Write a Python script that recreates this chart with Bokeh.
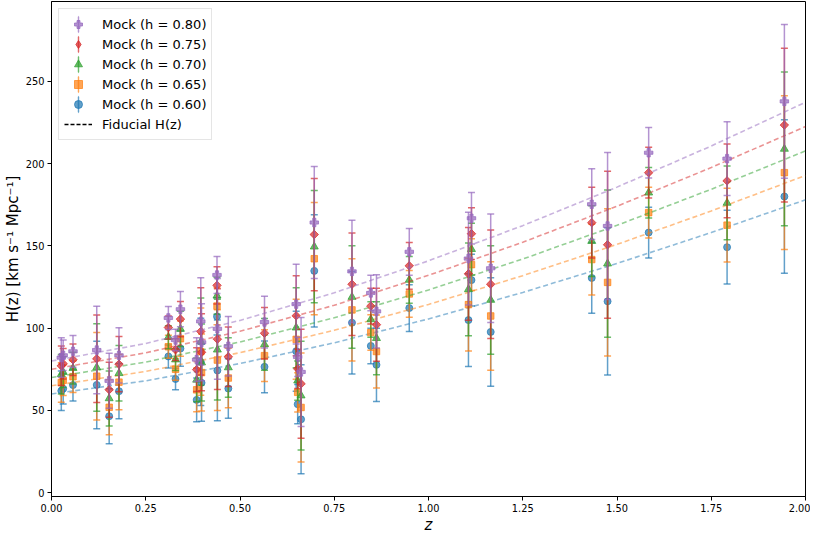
import math
from bokeh.plotting import figure
from bokeh.models import (Range1d, FixedTicker, NumeralTickFormatter, ColumnDataSource,
                          Legend, LegendItem)
from bokeh.embed import file_html
from bokeh.resources import INLINE

# ---------------- data ----------------
z = [0.026, 0.031, 0.057, 0.120, 0.153, 0.179, 0.310, 0.329, 0.342, 0.385, 0.396,
     0.398, 0.439, 0.440, 0.469, 0.565, 0.649, 0.653, 0.662, 0.697, 0.797, 0.847,
     0.862, 0.949, 1.106, 1.114, 1.165, 1.433, 1.475, 1.584, 1.792, 1.944]

h060 = [61.9, 63.2, 65.4, 65.5, 46.5, 61.7, 82.8, 69.1, 87.6, 56.4, 79.5,
        66.8, 107.1, 74.3, 63.3, 76.5, 86.0, 53.8, 44.6, 134.8, 103.3, 89.2,
        77.7, 112.2, 104.9, 129.2, 97.7, 130.5, 116.3, 158.1, 149.2, 180.0]
h065 = [67.0, 68.3, 70.5, 70.8, 51.9, 67.2, 88.7, 75.0, 93.6, 62.5, 85.7,
        73.0, 113.4, 80.6, 69.7, 83.3, 93.2, 61.0, 51.8, 142.2, 111.1, 97.3,
        85.8, 120.8, 114.3, 138.6, 107.4, 141.7, 127.8, 170.2, 162.6, 194.5]
h070 = [72.0, 73.3, 75.7, 76.1, 57.3, 72.6, 94.5, 80.9, 99.5, 68.6, 91.8,
        79.1, 119.7, 86.9, 76.1, 90.1, 100.3, 68.1, 59.0, 149.5, 118.9, 105.3,
        93.9, 129.3, 123.6, 148.0, 117.1, 152.9, 139.2, 182.3, 176.1, 208.9]
h075 = [77.1, 78.4, 80.8, 81.4, 62.6, 78.1, 100.4, 86.9, 105.5, 74.8, 98.0,
        85.3, 126.0, 93.3, 82.6, 96.9, 107.5, 75.3, 66.2, 156.9, 126.7, 113.4,
        102.1, 137.9, 133.0, 157.4, 126.7, 164.1, 150.7, 194.5, 189.5, 223.4]
h080 = [82.1, 83.5, 85.9, 86.7, 68.0, 83.5, 106.2, 92.8, 111.5, 80.9, 104.1,
        91.4, 132.3, 99.6, 89.0, 103.7, 114.6, 82.5, 73.4, 164.2, 134.5, 121.4,
        110.2, 146.4, 142.3, 166.8, 136.4, 175.3, 162.1, 206.6, 203.0, 237.8]
err = [12.0, 9.3, 9.6, 26.6, 16.7, 16.8, 7.0, 6.6, 10.7, 13.3, 26.5,
       23.4, 11.3, 30.6, 18.1, 15.7, 24.3, 11.9, 33.1, 34.1, 31.1, 10.8,
       22.2, 14.2, 28.2, 15.7, 33.0, 21.5, 44.7, 15.4, 22.4, 46.7]

fid_z = [0.0, 0.25, 0.5, 0.75, 1.0, 1.25, 1.5, 1.75, 2.0]
fid060 = [60.0, 68.0, 78.5, 91.1, 105.6, 121.7, 139.3, 158.1, 178.0]
fid065 = [65.0, 73.7, 85.1, 98.7, 114.4, 131.9, 150.9, 171.2, 192.8]
fid070 = [70.0, 79.4, 91.6, 106.3, 123.2, 142.0, 162.5, 184.4, 207.7]
fid075 = [75.0, 85.0, 98.1, 113.9, 132.1, 152.2, 174.1, 197.6, 222.5]
fid080 = [80.0, 90.7, 104.7, 121.5, 140.9, 162.3, 185.7, 210.7, 237.3]

labels = ["Mock (h = 0.60)", "Mock (h = 0.65)", "Mock (h = 0.70)",
          "Mock (h = 0.75)", "Mock (h = 0.80)"]
fid_label = "Fiducial H(z)"
x_ticks = [0.0, 0.25, 0.5, 0.75, 1.0, 1.25, 1.5, 1.75, 2.0]
y_ticks = [0, 50, 100, 150, 200, 250]

# ---------------- styles ----------------
colors = ["#1f77b4", "#ff7f0e", "#2ca02c", "#d62728", "#9467bd"]
markers = ["circle", "square", "triangle", "square", "plus"]
mangles = [0, 0, 0, math.pi / 4, 0]
msizes = [7, 6.5, 8, 6, 8.5]
legend_markers = ["circle", "square", "triangle", "diamond", "plus"]
FONT = "DejaVu Sans"
NAN = float("nan")

p = figure(width=810, height=536, x_range=Range1d(0, 2), y_range=Range1d(-2.3, 298.5),
           output_backend="svg", toolbar_location=None,
           min_border_left=47, min_border_right=5, min_border_top=1, min_border_bottom=0)
p.xgrid.visible = False
p.ygrid.visible = False
p.outline_line_color = "black"
p.outline_line_width = 1
p.background_fill_color = "white"
p.border_fill_color = "white"

p.xaxis.ticker = FixedTicker(ticks=x_ticks)
p.xaxis.formatter = NumeralTickFormatter(format="0.00")
p.yaxis.ticker = FixedTicker(ticks=y_ticks)
for ax in (p.xaxis, p.yaxis):
    ax.axis_line_color = "black"
    ax.major_tick_line_color = "black"
    ax.major_tick_out = 4
    ax.major_tick_in = 0
    ax.minor_tick_line_color = None
    ax.major_label_text_font = FONT
    ax.major_label_text_font_size = "9.8px"
    ax.major_label_text_color = "black"
    ax.major_label_standoff = 3
    ax.axis_label_text_font = FONT
    ax.axis_label_text_font_size = "15px"
    ax.axis_label_text_color = "black"
    ax.axis_label_standoff = 1
p.xaxis.axis_label = "z"
p.xaxis.axis_label_text_font_style = "italic"
p.yaxis.axis_label = "H(z) [km s\u207b\u00b9 Mpc\u207b\u00b9]"
p.yaxis.axis_label_text_font_style = "normal"

vals_all = [h060, h065, h070, h075, h080]
fids = [fid060, fid065, fid070, fid075, fid080]
legend_parts = {}

for i in range(5):
    col = colors[i]
    vals = vals_all[i]
    lo = [v - e for v, e in zip(vals, err)]
    hi = [v + e for v, e in zip(vals, err)]
    src = ColumnDataSource(dict(z=z, h=vals, lo=lo, hi=hi))
    p.line(fid_z, fids[i], line_color=col, line_dash="5 3", line_width=1.6, line_alpha=0.5)
    p.segment(x0="z", y0="lo", x1="z", y1="hi", source=src, line_color=col,
              line_alpha=0.7, line_width=1.5)
    p.scatter(x="z", y="lo", source=src, marker="dash", size=7, line_color=col,
              line_alpha=0.7, line_width=1.5)
    p.scatter(x="z", y="hi", source=src, marker="dash", size=7, line_color=col,
              line_alpha=0.7, line_width=1.5)
    p.scatter(x="z", y="h", source=src, marker=markers[i], size=msizes[i],
              angle=mangles[i], fill_color=col, line_color=col,
              fill_alpha=0.7, line_alpha=0.7, line_width=1)
    # legend-only icons (no visible data)
    bar = p.ellipse(x=[NAN], y=[NAN], width=0.1, height=16, width_units="screen",
                    height_units="screen", fill_color=None, line_color=col,
                    line_alpha=0.7, line_width=1.5)
    mk = p.scatter(x=[NAN], y=[NAN], marker=legend_markers[i], size=8,
                   fill_color=col, line_color=col, fill_alpha=0.7, line_alpha=0.7)
    legend_parts[i] = [bar, mk]

fid_dummy = p.line(x=[NAN], y=[NAN], line_color="black", line_dash="4 2", line_width=1.5)

items = [LegendItem(label=labels[i], renderers=legend_parts[i]) for i in (4, 3, 2, 1, 0)]
items.append(LegendItem(label=fid_label, renderers=[fid_dummy]))
legend = Legend(items=items, location="top_left", margin=7, padding=5, spacing=0,
                glyph_height=20, glyph_width=28, label_standoff=10, label_height=20,
                label_text_font=FONT, label_text_font_size="13px", label_text_color="black",
                border_line_color="#cccccc", border_line_width=1,
                background_fill_color="white", background_fill_alpha=0.8)
p.add_layout(legend)

open("out.html", "w").write(file_html(p, INLINE))
